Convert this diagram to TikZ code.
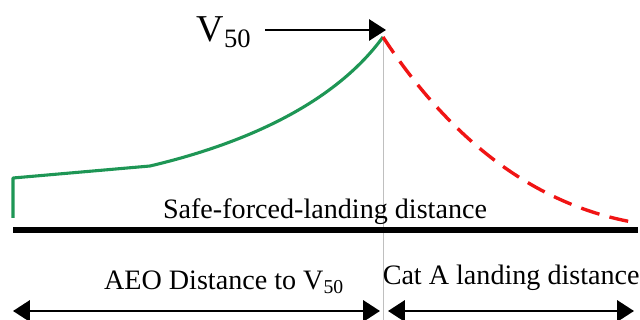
\documentclass[tikz,border=0pt]{standalone}
\usepackage{fontspec}
\setmainfont{Liberation Serif}
\usepackage{tikz}
\usetikzlibrary{arrows.meta, positioning}
\definecolor{aeogreen}{RGB}{30, 150, 85}
\definecolor{oeired}{RGB}{240, 20, 20}

\begin{document}
\begin{tikzpicture}[
                lbl/.style={inner sep=0pt, font=\fontsize{20}{24}\selectfont},
                dimarrow/.style={line width=2pt, {Triangle[length=12pt, width=15pt]}-{Triangle[length=12pt, width=15pt]}}]
                \useasboundingbox (0,0) rectangle (16,8);

                \coordinate (peak)  at (9.575, 7.075);
                \coordinate (gbase) at (0.325, 2.55);
                \coordinate (gedge) at (0.325, 3.55);
                \coordinate (gknee) at (3.75, 3.85);
                \coordinate (rend)  at (15.8, 2.45);
                \coordinate (foot)  at (9.575, 0);

                % split line at V50
                \draw[black!25, line width=0.4pt] (peak) -- (foot);

                % AEO climb and reject
                \draw[aeogreen, line width=2.2pt, line join=round]
                      (gbase) -- (gedge) -- (gknee)
                      .. controls (6.5, 4.5) and (8.5, 5.6) .. (peak);
                \draw[oeired, line width=2.4pt, dash pattern=on 0.48cm off 0.26cm]
                      (peak) .. controls (10.8, 5.2) and (12.8, 3.0) .. (rend);

                % ground
                \coordinate (gl) at (0.325, 2.25);
                \coordinate (gr) at (15.95, 2.25);
                \draw[line width=4pt] (gl) -- (gr);
                \node[lbl] (sfl) at (8.125, 2.7) {Safe-forced-landing distance};

                % V50 marker
                \node[lbl, font=\fontsize{27}{30}\selectfont] (vlbl) at (5.6, 7.2) {V\textsubscript{50}};
                \coordinate (vtail) at (6.625, 7.25);
                \coordinate (vtip)  at (9.65, 7.25);
                \draw[line width=1.6pt, -{Triangle[length=12pt, width=15pt]}] (vtail) -- (vtip);

                % distances
                \coordinate (al) at (0.325, 0.225);
                \coordinate (ar) at (9.5, 0.225);
                \coordinate (bl) at (9.7, 0.225);
                \coordinate (br) at (15.85, 0.225);
                \draw[dimarrow] (al) -- (ar);
                \draw[dimarrow] (bl) -- (br);
                \node[lbl] (aeo)  at (5.6, 0.95)  {AEO Distance to V\textsubscript{50}};
                \node[lbl] (cata) at (12.78, 1.05) {Cat A landing distance};
            \end{tikzpicture}
\end{document}
